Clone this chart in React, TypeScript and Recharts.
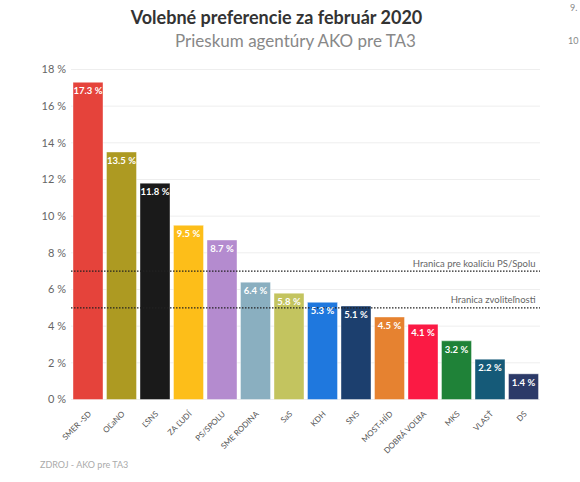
import { Bar, BarChart, CartesianGrid, Cell, LabelList, ReferenceLine, XAxis, YAxis } from 'recharts'

const FONT = 'Lato, "Noto Sans", sans-serif'

const parties = ['SMER -SD', 'OĽaNO', 'ĽSNS', 'ZA ĽUDÍ', 'PS/SPOLU', 'SME RODINA', 'SaS', 'KDH', 'SNS', 'MOST-HÍD', 'DOBRÁ VOĽBA', 'MKS', 'VLASŤ', 'DS']
const shares = [17.3, 13.5, 11.8, 9.5, 8.7, 6.4, 5.8, 5.3, 5.1, 4.5, 4.1, 3.2, 2.2, 1.4]
const palette = ['#e5433b', '#ad9a22', '#1a1a1a', '#fdbe19', '#b48bcf', '#8aafc0', '#c3c45f', '#1f78de', '#1c3f6e', '#e68230', '#fb1a44', '#1f8238', '#155a78', '#2c3a68']
const yTicks = [0, 2, 4, 6, 8, 10, 12, 14, 16, 18]

const data = parties.map((name, i) => ({ name, share: shares[i] }))

const text = (x: number, y: number, size: number, color: string, weight = 400) => ({
  position: 'absolute' as const,
  left: x,
  top: y,
  fontSize: size,
  color,
  fontWeight: weight,
  fontFamily: FONT,
  lineHeight: 1,
  whiteSpace: 'nowrap' as const,
})

export default function App() {
  return (
    <div style={{ position: 'absolute', left: 0, top: 0, width: 580, height: 482, background: '#fff', overflow: 'hidden' }}>
      <BarChart
        width={580}
        height={482}
        data={data}
        barCategoryGap={2}
        margin={{ top: 69.5, right: 40, bottom: 0, left: 0 }}
      >
        <CartesianGrid vertical={false} stroke="#eeeeee" />
        <XAxis
          dataKey="name"
          interval={0}
          angle={-45}
          textAnchor="end"
          axisLine={false}
          tickLine={false}
          height={82.5}
          tickMargin={5}
          tick={{ fill: '#555', fontSize: 8, fontFamily: FONT }}
        />
        <YAxis
          width={71}
          domain={[0, 18]}
          ticks={yTicks}
          tickFormatter={(v: number) => `${v} %`}
          axisLine={false}
          tickLine={false}
          tickMargin={-1}
          tick={{ fill: '#666', fontSize: 11, fontFamily: FONT }}
        />
        <Bar dataKey="share" isAnimationActive={false} stroke="#ffffff" strokeOpacity={0.4}>
          {data.map((d, i) => (
            <Cell key={d.name} fill={palette[i]} />
          ))}
          <LabelList
            dataKey="share"
            position="insideTop"
            formatter={(v: number) => `${v}\u00a0%`}
            fill="#ffffff"
            fontSize={9.5}
            fontWeight={700}
            fontFamily={FONT}
          />
        </Bar>
        <ReferenceLine
          y={7}
          stroke="#222"
          strokeWidth={1.2}
          strokeDasharray="1.5 1.5"
          label={{ value: 'Hranica pre koalíciu PS/Spolu', position: 'insideBottomRight', fill: '#666', fontSize: 9.5, fontFamily: FONT, offset: 4.5 }}
        />
        <ReferenceLine
          y={5}
          stroke="#222"
          strokeWidth={1.2}
          strokeDasharray="1.5 1.5"
          label={{ value: 'Hranica zvoliteľnosti', position: 'insideBottomRight', fill: '#666', fontSize: 9.5, fontFamily: FONT, offset: 4.5 }}
        />
      </BarChart>
      <div style={{ ...text(0, 8, 18, '#333', 700), width: 553, textAlign: 'center' }}>Volebné preferencie za február 2020</div>
      <div style={{ ...text(0, 32, 17, '#888'), width: 591, textAlign: 'center' }}>Prieskum agentúry AKO pre TA3</div>
      <div style={text(40, 460, 9, '#aaa')}>ZDROJ - AKO pre TA3</div>
      <div style={text(570, 3, 9, '#888')}>9.</div>
      <div style={text(568, 36, 9, '#888')}>10</div>
    </div>
  )
}
